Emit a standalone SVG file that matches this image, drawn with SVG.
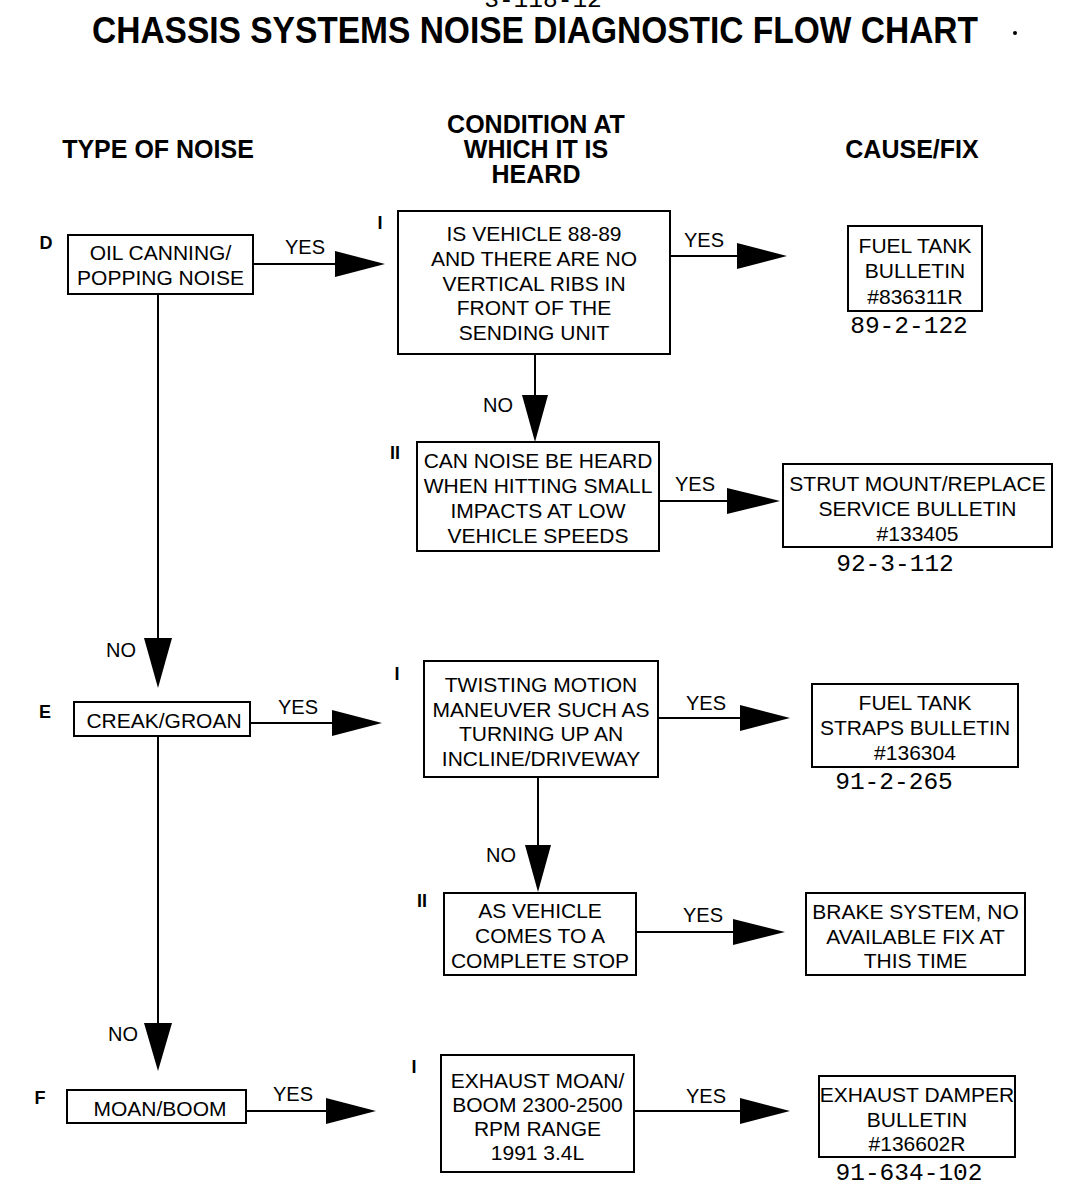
<svg xmlns="http://www.w3.org/2000/svg" width="1072" height="1200" viewBox="0 0 1072 1200">
<style>
.box{fill:#fff;stroke:#000;stroke-width:2}
.t{font-family:"Liberation Sans",Arial,sans-serif;font-size:21px;text-anchor:middle;fill:#000}
.lbl{font-family:"Liberation Sans",Arial,sans-serif;font-size:20px;text-anchor:middle;fill:#000}
.key{font-family:"Liberation Sans",Arial,sans-serif;font-size:18px;font-weight:bold;text-anchor:middle;fill:#000}
.hd{font-family:"Liberation Sans",Arial,sans-serif;font-size:25px;font-weight:bold;text-anchor:middle;fill:#000}
.mono{font-family:"Liberation Mono","Courier New",monospace;font-size:24.5px;text-anchor:middle;fill:#000}
.ln{stroke:#000;stroke-width:2;fill:none}
.ah{fill:#000;stroke:none}
</style>
<rect width="1072" height="1200" fill="#fff"/>
<text class="mono" x="543" y="7">3-118-12</text>
<text x="535" y="43" font-family="Liberation Sans,Arial,sans-serif" font-size="36" font-weight="bold" text-anchor="middle" textLength="886" lengthAdjust="spacingAndGlyphs">CHASSIS SYSTEMS NOISE DIAGNOSTIC FLOW CHART</text>
<circle cx="1015" cy="33" r="2" fill="#000"/>
<g id="headers">
<text class="hd" x="158" y="158">TYPE OF NOISE</text>
<text class="hd" x="536" y="133">CONDITION AT</text>
<text class="hd" x="536" y="158">WHICH IT IS</text>
<text class="hd" x="536" y="183">HEARD</text>
<text class="hd" x="912" y="158">CAUSE/FIX</text>
</g>
<g id="connectors">
<line class="ln" x1="253" y1="264" x2="340" y2="264"/><polygon class="ah" points="335,251 385,264 335,277"/>
<text class="lbl" x="305" y="254">YES</text>
<line class="ln" x1="670" y1="256" x2="742" y2="256"/><polygon class="ah" points="737,243 787,256 737,269"/>
<text class="lbl" x="704" y="247">YES</text>
<line class="ln" x1="535" y1="354" x2="535" y2="400"/><polygon class="ah" points="522,395 548,395 535,442"/>
<text class="lbl" x="498" y="412">NO</text>
<line class="ln" x1="659" y1="501" x2="732" y2="501"/><polygon class="ah" points="727,488 780,501 727,514"/>
<text class="lbl" x="695" y="491">YES</text>
<line class="ln" x1="158" y1="294" x2="158" y2="643"/><polygon class="ah" points="144,638 172,638 158,688"/>
<text class="lbl" x="121" y="657">NO</text>
<line class="ln" x1="250" y1="723" x2="337" y2="723"/><polygon class="ah" points="332,710 382,723 332,736"/>
<text class="lbl" x="298" y="714">YES</text>
<line class="ln" x1="658" y1="718" x2="745" y2="718"/><polygon class="ah" points="740,705 790,718 740,731"/>
<text class="lbl" x="706" y="710">YES</text>
<line class="ln" x1="538" y1="777" x2="538" y2="850"/><polygon class="ah" points="525,845 551,845 538,892"/>
<text class="lbl" x="501" y="862">NO</text>
<line class="ln" x1="636" y1="932" x2="738" y2="932"/><polygon class="ah" points="733,919 785,932 733,945"/>
<text class="lbl" x="703" y="922">YES</text>
<line class="ln" x1="158" y1="736" x2="158" y2="1028"/><polygon class="ah" points="144,1023 172,1023 158,1071"/>
<text class="lbl" x="123" y="1041">NO</text>
<line class="ln" x1="246" y1="1111" x2="331" y2="1111"/><polygon class="ah" points="326,1098 376,1111 326,1124"/>
<text class="lbl" x="293" y="1101">YES</text>
<line class="ln" x1="634" y1="1111" x2="745" y2="1111"/><polygon class="ah" points="740,1098 790,1111 740,1124"/>
<text class="lbl" x="706" y="1103">YES</text>
</g>
<g id="nodeD">
<text class="key" x="46" y="249">D</text>
<rect class="box" x="68" y="235" width="185" height="59"/>
<text class="t" x="160.5" y="259.5">OIL CANNING/</text>
<text class="t" x="160.5" y="284.5">POPPING NOISE</text>
</g>
<g id="nodeD1">
<text class="key" x="380" y="229">I</text>
<rect class="box" x="398" y="211" width="272" height="143"/>
<text class="t" x="534" y="240.5">IS VEHICLE 88-89</text>
<text class="t" x="534" y="265.5">AND THERE ARE NO</text>
<text class="t" x="534" y="290.5">VERTICAL RIBS IN</text>
<text class="t" x="534" y="314.5">FRONT OF THE</text>
<text class="t" x="534" y="339.5">SENDING UNIT</text>
</g>
<g id="fixD1">
<rect class="box" x="848" y="226" width="134" height="85"/>
<text class="t" x="915" y="252.5">FUEL TANK</text>
<text class="t" x="915" y="277.5">BULLETIN</text>
<text class="t" x="915" y="303.5">#836311R</text>
<text class="mono" x="909" y="333">89-2-122</text>
</g>
<g id="nodeD2">
<text class="key" x="395" y="459">II</text>
<rect class="box" x="417" y="442" width="242" height="109"/>
<text class="t" x="538" y="467.5">CAN NOISE BE HEARD</text>
<text class="t" x="538" y="492.5">WHEN HITTING SMALL</text>
<text class="t" x="538" y="517.5">IMPACTS AT LOW</text>
<text class="t" x="538" y="542.5">VEHICLE SPEEDS</text>
</g>
<g id="fixD2">
<rect class="box" x="783" y="464" width="269" height="83"/>
<text class="t" x="917.5" y="490.5">STRUT MOUNT/REPLACE</text>
<text class="t" x="917.5" y="515.5">SERVICE BULLETIN</text>
<text class="t" x="917.5" y="540.5">#133405</text>
<text class="mono" x="895" y="571">92-3-112</text>
</g>
<g id="nodeE">
<text class="key" x="45" y="718">E</text>
<rect class="box" x="74" y="702" width="176" height="34"/>
<text class="t" x="164" y="727.5">CREAK/GROAN</text>
</g>
<g id="nodeE1">
<text class="key" x="397" y="680">I</text>
<rect class="box" x="424" y="661" width="234" height="116"/>
<text class="t" x="541" y="691.5">TWISTING MOTION</text>
<text class="t" x="541" y="716.5">MANEUVER SUCH AS</text>
<text class="t" x="541" y="740.5">TURNING UP AN</text>
<text class="t" x="541" y="765.5">INCLINE/DRIVEWAY</text>
</g>
<g id="fixE1">
<rect class="box" x="812" y="684" width="206" height="83"/>
<text class="t" x="915" y="709.5">FUEL TANK</text>
<text class="t" x="915" y="734.5">STRAPS BULLETIN</text>
<text class="t" x="915" y="759.5">#136304</text>
<text class="mono" x="894" y="789">91-2-265</text>
</g>
<g id="nodeE2">
<text class="key" x="422" y="907">II</text>
<rect class="box" x="444" y="893" width="192" height="82"/>
<text class="t" x="540" y="917.5">AS VEHICLE</text>
<text class="t" x="540" y="942.5">COMES TO A</text>
<text class="t" x="540" y="967.5">COMPLETE STOP</text>
</g>
<g id="fixE2">
<rect class="box" x="806" y="893" width="219" height="82"/>
<text class="t" x="915.5" y="918.5">BRAKE SYSTEM, NO</text>
<text class="t" x="915.5" y="943.5">AVAILABLE FIX AT</text>
<text class="t" x="915.5" y="967.5">THIS TIME</text>
</g>
<g id="nodeF">
<text class="key" x="40" y="1104">F</text>
<rect class="box" x="67" y="1090" width="179" height="33"/>
<text class="t" x="160" y="1115.5">MOAN/BOOM</text>
</g>
<g id="nodeF1">
<text class="key" x="414" y="1073">I</text>
<rect class="box" x="441" y="1055" width="193" height="117"/>
<text class="t" x="537.5" y="1087.5">EXHAUST MOAN/</text>
<text class="t" x="537.5" y="1111.5">BOOM 2300-2500</text>
<text class="t" x="537.5" y="1135.5">RPM RANGE</text>
<text class="t" x="537.5" y="1159.5">1991 3.4L</text>
</g>
<g id="fixF1">
<rect class="box" x="819" y="1076" width="196" height="81"/>
<text class="t" x="917" y="1101.5">EXHAUST DAMPER</text>
<text class="t" x="917" y="1126.5">BULLETIN</text>
<text class="t" x="917" y="1150.5">#136602R</text>
<text class="mono" x="909" y="1180">91-634-102</text>
</g>
</svg>
